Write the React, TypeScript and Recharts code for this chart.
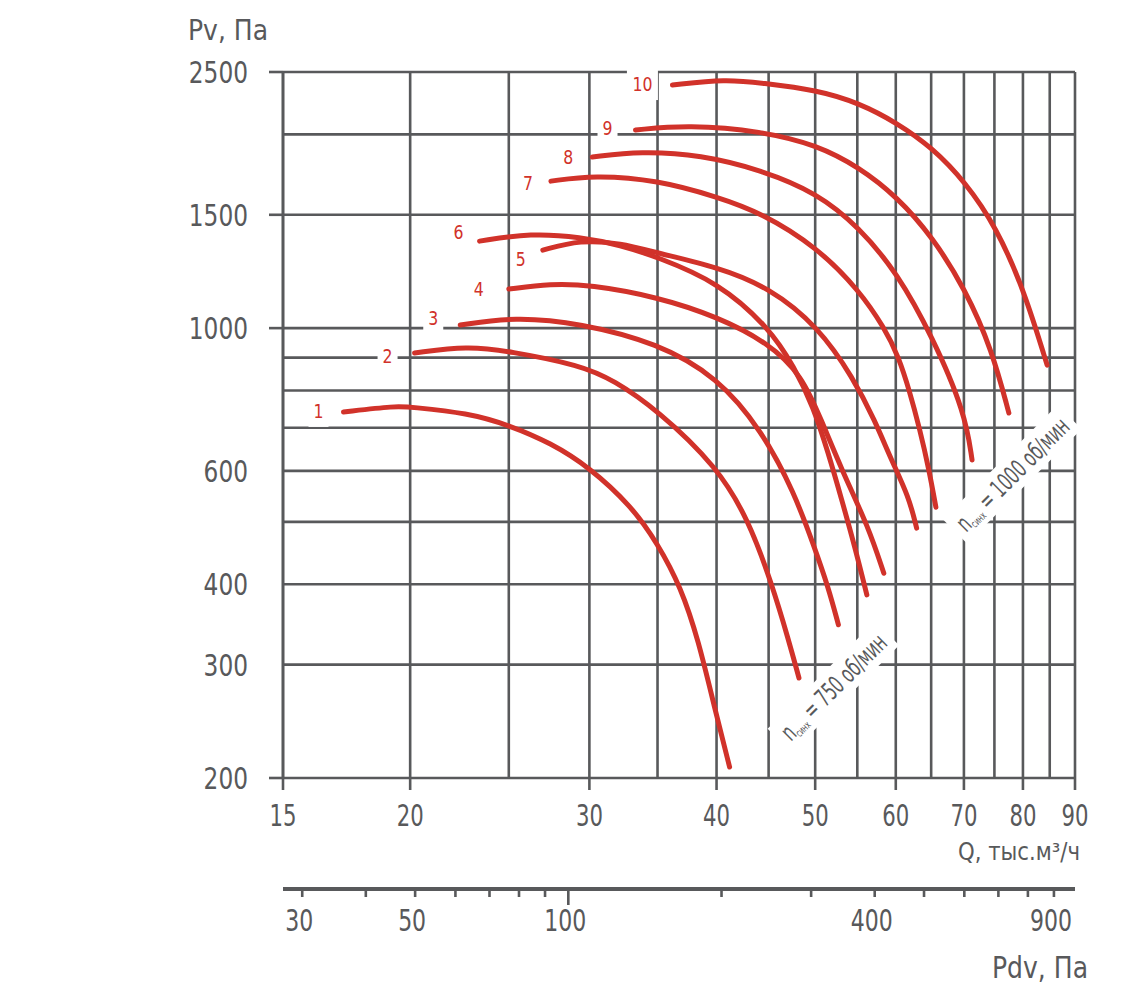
import React from 'react'
import { LineChart, Line, XAxis, YAxis, CartesianGrid, ReferenceDot } from 'recharts'

const FONT = '"DejaVu Sans Condensed", "Liberation Sans Narrow", Roboto, sans-serif'
const GRID = '#58595b'
const INK = '#58595b'
const RED = '#d1322a'

// axes
const Q_TICKS = [15, 20, 25, 30, 35, 40, 45, 50, 55, 60, 65, 70, 75, 80, 85, 90]
const Q_LABELS = [15, 20, 30, 40, 50, 60, 70, 80, 90]
const PV_TICKS = [200, 300, 400, 500, 600, 700, 800, 900, 1000, 1500, 2000, 2500]
const PV_LABELS = [200, 300, 400, 600, 1000, 1500, 2500]
const PV_LONG = [200, 1000, 1500, 2500]
const PDV_TICKS = [30, 40, 50, 60, 70, 80, 90, 100, 200, 300, 400, 500, 600, 700, 800, 900]
const PDV_LABELS = [30, 50, 100, 400, 900]

// fan curves: Q (тыс.м³/ч) and Pv (Па)
const FAN_1_Q = [17.2, 19.4, 20.0, 22.8, 25.0, 27.5, 30.0, 33.0, 35.0, 36.9, 38.4, 39.8, 41.2]
const FAN_1_PV = [741, 757, 754, 738, 707, 663, 608, 529, 463, 396, 327, 258, 208]
const FAN_2_Q = [20.2, 22.8, 25.0, 29.4, 31.7, 35.0, 40.1, 43.0, 45.3, 47.1, 48.2]
const FAN_2_PV = [915, 938, 921, 876, 830, 746, 608, 503, 402, 327, 286]
const FAN_3_Q = [22.4, 25.3, 29.4, 35.0, 40.1, 44.3, 47.7, 49.9, 51.5, 52.7]
const FAN_3_PV = [1011, 1041, 1018, 948, 839, 694, 555, 457, 396, 346]
const FAN_4_Q = [25.0, 27.5, 30.0, 35.0, 40.1, 45.0, 48.5, 50.7, 53.1, 56.4, 58.4]
const FAN_4_PV = [1150, 1172, 1168, 1118, 1041, 948, 845, 720, 602, 491, 416]
const FAN_5_Q = [27.0, 29.4, 32.2, 35.0, 40.1, 45.0, 50.4, 54.5, 57.2, 59.4, 61.8, 62.9]
const FAN_5_PV = [1322, 1371, 1356, 1308, 1244, 1158, 1004, 836, 720, 624, 547, 489]
const FAN_6_Q = [23.4, 26.3, 29.4, 32.2, 35.0, 40.1, 45.0, 47.7, 49.8, 51.5, 53.1, 54.7, 56.2]
const FAN_6_PV = [1365, 1405, 1385, 1346, 1289, 1180, 1004, 870, 754, 640, 541, 457, 385]
const FAN_7_Q = [27.5, 30.3, 35.0, 40.1, 44.3, 50.2, 55.2, 58.5, 60.4, 61.9, 63.3, 64.7, 65.7]
const FAN_7_PV = [1692, 1729, 1699, 1599, 1510, 1336, 1146, 1000, 902, 798, 700, 602, 527]
const FAN_8_Q = [30.2, 33.7, 38.6, 44.3, 50.2, 55.2, 60.2, 65.2, 70.2, 71.3]
const FAN_8_PV = [1844, 1884, 1858, 1760, 1622, 1436, 1218, 969, 738, 624]
const FAN_9_Q = [33.3, 37.5, 44.3, 50.2, 55.2, 60.2, 65.2, 70.2, 74.6, 77.5]
const FAN_9_PV = [2032, 2068, 2024, 1925, 1779, 1599, 1385, 1150, 925, 738]
const FAN_10_Q = [36.2, 40.9, 44.3, 50.2, 55.2, 60.2, 65.2, 70.2, 75.3, 80.2, 84.5]
const FAN_10_PV = [2386, 2438, 2403, 2344, 2238, 2083, 1905, 1687, 1436, 1146, 876]

const FANS = [
  { name: '1', q: FAN_1_Q, pv: FAN_1_PV },
  { name: '2', q: FAN_2_Q, pv: FAN_2_PV },
  { name: '3', q: FAN_3_Q, pv: FAN_3_PV },
  { name: '4', q: FAN_4_Q, pv: FAN_4_PV },
  { name: '5', q: FAN_5_Q, pv: FAN_5_PV },
  { name: '6', q: FAN_6_Q, pv: FAN_6_PV },
  { name: '7', q: FAN_7_Q, pv: FAN_7_PV },
  { name: '8', q: FAN_8_Q, pv: FAN_8_PV },
  { name: '9', q: FAN_9_Q, pv: FAN_9_PV },
  { name: '10', q: FAN_10_Q, pv: FAN_10_PV },
].map((f) => ({ ...f, data: f.q.map((q, i) => ({ q, pv: f.pv[i] })) }))

// the Pdv scale carries no curve, only its own ticks
const PDV_DATA = PDV_TICKS.map((pdv) => ({ pdv }))

// where the number tag sits relative to the start of its curve (px)
const TAG_SHIFT: [number, number][] = [
  [-25, -1], [-27, 3], [-27, -7], [-30, 0], [-22, 9],
  [-21, -9], [-23, 2], [-24, 0], [-28, -2], [-30, -1],
]

// synchronous speed notes
const RPM_NOTES = [
  { rpm: '750', q: 52.1, pv: 277, len: 152, text: 138 },
  { rpm: '1000', q: 78.1, pv: 593, len: 162, text: 148 },
]

// condensed text: squeezes the glyphs to a given width
const CText = ({ x, y, size, len, anchor = 'middle', children }: any) => (
  <text
    x={x}
    y={y}
    fontSize={size}
    fill={INK}
    fontFamily={FONT}
    textAnchor={anchor}
    textLength={len}
    lengthAdjust="spacingAndGlyphs"
  >
    {children}
  </text>
)

const QTick = ({ x, y, payload }: any) => {
  const v = payload.value
  if (!Q_LABELS.includes(v)) return <g />
  return (
    <g>
      <line x1={x} x2={x} y1={y} y2={y + 12} stroke={GRID} strokeWidth={2.6} />
      <CText x={x} y={y + 48} size={31} len={String(v).length * 13.5}>
        {v}
      </CText>
    </g>
  )
}

const PvTick = ({ x, y, payload }: any) => {
  const v = payload.value
  return (
    <g>
      {PV_LONG.includes(v) && (
        <line x1={x - 14} x2={x} y1={y} y2={y} stroke={GRID} strokeWidth={2.6} />
      )}
      {PV_LABELS.includes(v) && (
        <CText x={x - 35} y={y + 11} size={31} len={String(v).length * 14.8} anchor="end">
          {v}
        </CText>
      )}
    </g>
  )
}

const PdvTick = ({ x, y, payload }: any) => {
  const v = payload.value
  return (
    <g>
      <line x1={x} x2={x} y1={y} y2={y + (v === 100 ? 16 : 8)} stroke={GRID} strokeWidth={2.6} />
      {PDV_LABELS.includes(v) && (
        <CText x={x - 3} y={y + 42} size={31} len={String(v).length * 14}>
          {v}
        </CText>
      )}
    </g>
  )
}

const NumberTag = ({ cx, cy, text, dx, dy }: any) => {
  const w = text.length * 11 + 9
  return (
    <g>
      <rect x={cx + dx - w / 2} y={cy + dy - 16} width={w} height={32} fill="#fff" />
      <text
        x={cx + dx}
        y={cy + dy + 7}
        textAnchor="middle"
        fontSize={20}
        fill={RED}
        fontFamily={FONT}
        textLength={text.length * 10}
        lengthAdjust="spacingAndGlyphs"
      >
        {text}
      </text>
    </g>
  )
}

const RpmNote = ({ cx, cy, rpm, len, text }: any) => (
  <g transform={`translate(${cx},${cy}) rotate(-45)`}>
    <rect x={-len / 2} y={-17} width={len} height={34} fill="#fff" />
    <text
      x={0}
      y={9}
      textAnchor="middle"
      fontSize={25}
      fill={INK}
      fontFamily={FONT}
      textLength={text}
      lengthAdjust="spacingAndGlyphs"
    >
      <tspan>n</tspan>
      <tspan fontSize={11} dy={3}>синх</tspan>
      <tspan dy={-3}>{` = ${rpm} об/мин`}</tspan>
    </text>
  </g>
)

export default function App() {
  return (
    <div style={{ position: 'absolute', left: 0, top: 0, width: 1123, height: 995, background: '#fff' }}>
      <LineChart width={1123} height={995} margin={{ top: 72, right: 48, left: 183, bottom: 6 }}>
        <CartesianGrid xAxisId="main" yAxisId="pv" stroke={GRID} strokeWidth={2.6} />
        <XAxis
          xAxisId="pdv"
          dataKey="pdv"
          type="number"
          scale="log"
          domain={[27.5, 990]}
          allowDataOverflow
          ticks={PDV_TICKS}
          interval={0}
          axisLine={{ stroke: GRID, strokeWidth: 4 }}
          tickLine={false}
          tickSize={0}
          tickMargin={0}
          height={100}
          tick={<PdvTick />}
          label={{
            content: ({ viewBox }: any) => (
              <CText x={viewBox.x + viewBox.width + 13} y={viewBox.y + 89} size={31} len={96} anchor="end">
                Pdv, Па
              </CText>
            ),
          }}
        />
        <XAxis
          xAxisId="main"
          dataKey="q"
          type="number"
          scale="log"
          domain={[15, 90]}
          allowDataOverflow
          ticks={Q_TICKS}
          interval={0}
          axisLine={false}
          tickLine={false}
          tickSize={0}
          tickMargin={0}
          height={111}
          tick={<QTick />}
          label={{
            content: ({ viewBox }: any) => (
              <CText x={viewBox.x + viewBox.width + 5} y={viewBox.y + 82} size={24} len={122} anchor="end">
                Q, тыс.м³/ч
              </CText>
            ),
          }}
        />
        <YAxis
          yAxisId="pv"
          type="number"
          scale="log"
          domain={[200, 2500]}
          allowDataOverflow
          ticks={PV_TICKS}
          interval={0}
          axisLine={{ stroke: GRID, strokeWidth: 2.6 }}
          tickLine={false}
          tickSize={0}
          tickMargin={0}
          width={100}
          tick={<PvTick />}
          label={{
            content: ({ viewBox }: any) => (
              <CText x={viewBox.x + 5} y={viewBox.y - 32} size={29} len={80} anchor="start">
                Pv, Па
              </CText>
            ),
          }}
        />
        <Line
          xAxisId="pdv"
          yAxisId="pv"
          data={PDV_DATA}
          dataKey="pv"
          stroke="none"
          dot={false}
          activeDot={false}
          legendType="none"
          isAnimationActive={false}
        />
        {FANS.map((f) => (
          <Line
            key={f.name}
            xAxisId="main"
            yAxisId="pv"
            data={f.data}
            dataKey="pv"
            type="basis"
            stroke={RED}
            strokeWidth={5}
            strokeLinecap="round"
            dot={false}
            activeDot={false}
            isAnimationActive={false}
          />
        ))}
        {FANS.map((f, i) => (
          <ReferenceDot
            key={`tag-${f.name}`}
            xAxisId="main"
            yAxisId="pv"
            x={f.q[0]}
            y={f.pv[0]}
            shape={(p: any) => (
              <NumberTag cx={p.cx} cy={p.cy} text={f.name} dx={TAG_SHIFT[i][0]} dy={TAG_SHIFT[i][1]} />
            )}
          />
        ))}
        {RPM_NOTES.map((n) => (
          <ReferenceDot
            key={`rpm-${n.rpm}`}
            xAxisId="main"
            yAxisId="pv"
            x={n.q}
            y={n.pv}
            shape={(p: any) => <RpmNote cx={p.cx} cy={p.cy} rpm={n.rpm} len={n.len} text={n.text} />}
          />
        ))}
      </LineChart>
    </div>
  )
}
